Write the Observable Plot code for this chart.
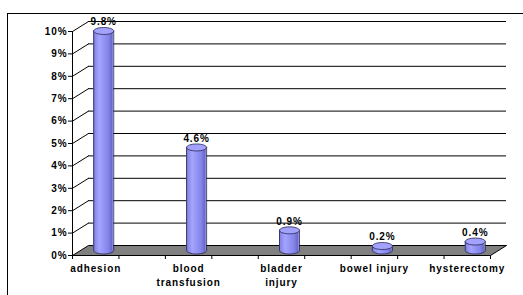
<!DOCTYPE html>
<html><head><meta charset="utf-8">
<script src="https://cdn.jsdelivr.net/npm/d3@7"></script>
<script src="https://cdn.jsdelivr.net/npm/@observablehq/plot@0.6"></script>
<style>
html,body{margin:0;padding:0;background:#fff;overflow:hidden;width:523px;height:295px;}
#frame{position:absolute;left:7px;top:13px;width:600px;height:400px;border:1px solid #000;box-sizing:border-box;}
#chart{position:absolute;left:0;top:0;}
#chart svg text{letter-spacing:0.9px;}
</style></head><body>
<div id="frame"></div><div id="chart"></div>
<script>
const categories = ["adhesion", "blood\ntransfusion", "bladder\ninjury", "bowel injury", "hysterectomy"];
const values = [9.8, 4.6, 0.9, 0.2, 0.4];
const valueLabels = ["9.8%", "4.6%", "0.9%", "0.2%", "0.4%"];
const yTicks = [0, 1, 2, 3, 4, 5, 6, 7, 8, 9, 10];

const W = 523, H = 295;
const mL = 72, mR = 33, mT = 31, mB = 40;
const xMax = 9, yMax = 10;
const kx = (W - mL - mR) / xMax, ky = (H - mT - mB) / yMax;
const DEPTH_X = 16, DEPTH_Y = 10;          // px depth of the 3D box
const du = DEPTH_X / kx, dv = DEPTH_Y / ky; // same in data units
const halfW = 10 / kx;                      // cylinder half width
const midDx = DEPTH_X / 2, midDy = -DEPTH_Y / 2;

const data = categories.map((c, i) => ({cat: c, v: values[i], label: valueLabels[i], x: 2 * i + 0.5}));
const floor = [[0, 0], [xMax, 0], [xMax + du, dv], [du, dv], [0, 0]];

const ellipse = {draw(ctx) {
  const rx = 10, ry = 3.5, k = 0.5523;
  ctx.moveTo(rx, 0);
  ctx.bezierCurveTo(rx, k * ry, k * rx, ry, 0, ry);
  ctx.bezierCurveTo(-k * rx, ry, -rx, k * ry, -rx, 0);
  ctx.bezierCurveTo(-rx, -k * ry, -k * rx, -ry, 0, -ry);
  ctx.bezierCurveTo(k * rx, -ry, rx, -k * ry, rx, 0);
  ctx.closePath();
}};

const font = {fontWeight: "bold", fontSize: 10};
const edge = "#26264a";

const svg = Plot.plot({
  width: W, height: H,
  marginLeft: mL, marginRight: mR, marginTop: mT, marginBottom: mB,
  style: {fontFamily: "'Liberation Sans', Arial, sans-serif", background: "transparent", overflow: "visible"},
  x: {type: "linear", domain: [0, xMax]},
  y: {type: "linear", domain: [0, yMax]},
  marks: [
    // back wall gridlines
    Plot.ruleY(yTicks.slice(1), {y: d => d + dv, x1: du, x2: xMax + du, stroke: "#000", strokeWidth: 1}),
    // side diagonals
    Plot.link(yTicks.slice(1), {x1: 0, y1: d => d, x2: du, y2: d => d + dv, stroke: "#000", strokeWidth: 1}),
    // floor
    Plot.line(floor, {x: d => d[0], y: d => d[1], fill: "#808080", stroke: "#000", strokeWidth: 1}),
    // front axis line
    Plot.ruleX([0], {y1: 0, y2: yMax, stroke: "#000"}),
    Plot.ruleY([0], {x1: 0, x2: xMax, stroke: "#000"}),
    Plot.axisY(yTicks, {tickSize: 4, tickPadding: 1, tickFormat: d => d + "%", label: null, ...font, fill: "#000"}),
    Plot.axisX(d3.range(0, 10), {tickSize: 4, tickFormat: () => "", label: null}),
    // cylinders
    Plot.dot(data, {x: "x", y: 0, symbol: ellipse, fill: "url(#cylGrad)", stroke: edge, strokeWidth: 0.8, dx: midDx, dy: midDy}),
    Plot.rect(data, {x1: d => d.x - halfW, x2: d => d.x + halfW, y1: 0, y2: "v", fill: "url(#cylGrad)", dx: midDx, dy: midDy}),
    Plot.ruleX(data, {x: d => d.x - halfW, y1: 0, y2: "v", stroke: edge, strokeWidth: 0.8, dx: midDx, dy: midDy}),
    Plot.ruleX(data, {x: d => d.x + halfW, y1: 0, y2: "v", stroke: edge, strokeWidth: 0.8, dx: midDx, dy: midDy}),
    Plot.dot(data, {x: "x", y: "v", symbol: ellipse, fill: "#a3a3ff", stroke: edge, strokeWidth: 0.8, dx: midDx, dy: midDy}),
    // value labels
    Plot.text(data, {x: "x", y: "v", text: "label", dx: midDx, dy: midDy - 9, fill: "#000", ...font}),
    // category labels
    Plot.text(data, {x: "x", y: 0, text: "cat", lineAnchor: "top", dy: 7, lineHeight: 1.4, fill: "#000", ...font})
  ]
});

const ns = "http://www.w3.org/2000/svg";
const defs = document.createElementNS(ns, "defs");
defs.innerHTML = `<linearGradient id="cylGrad" x1="0" x2="1" y1="0" y2="0">
  <stop offset="0" stop-color="#7c7ce0"/>
  <stop offset="0.3" stop-color="#a4a4ff"/>
  <stop offset="0.75" stop-color="#8484ea"/>
  <stop offset="0.92" stop-color="#6a6acc"/>
  <stop offset="1" stop-color="#9a9af0"/>
</linearGradient>`;
svg.insertBefore(defs, svg.firstChild);
document.getElementById("chart").appendChild(svg);
</script>
</body></html>
